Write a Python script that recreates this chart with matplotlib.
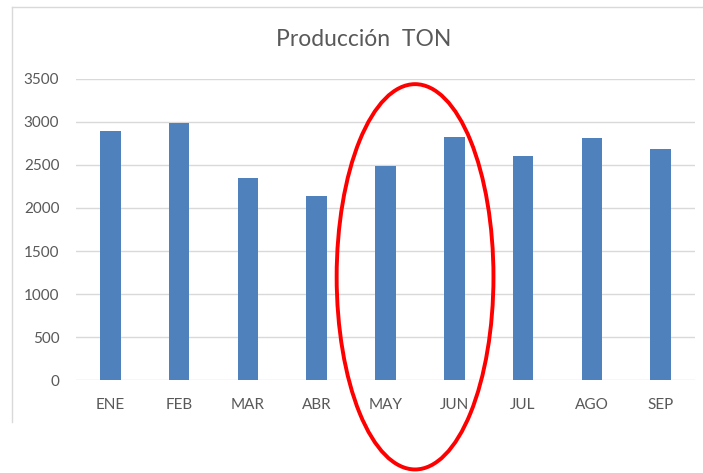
import matplotlib.pyplot as plt
from matplotlib.patches import Ellipse
from matplotlib.lines import Line2D

meses = ['ENE', 'FEB', 'MAR', 'ABR', 'MAY', 'JUN', 'JUL', 'AGO', 'SEP']
produccion = [2890, 2990, 2350, 2140, 2490, 2820, 2610, 2810, 2690]
yticks = [0, 500, 1000, 1500, 2000, 2500, 3000, 3500]

gris = '#595959'
plt.rcParams['font.family'] = ['Lato', 'DejaVu Sans']

fig = plt.figure(figsize=(7.03, 4.73), dpi=100)
ax = fig.add_axes([0.1081, 0.1966, 0.8805, 0.6364])

x = range(len(meses))
ax.bar(x, produccion, width=0.3, color='#4F81BD', zorder=3)

ax.set_xlim(-0.5, len(meses) - 0.5)
ax.set_ylim(0, 3500)
ax.set_yticks(yticks)
ax.set_xticks(list(x))
ax.set_xticklabels(meses)
ax.grid(axis='y', color='#D9D9D9', linewidth=1, zorder=0)
ax.tick_params(length=0, labelsize=11, labelcolor=gris)
ax.tick_params(axis='y', pad=12)
ax.tick_params(axis='x', pad=13)
for s in ax.spines.values():
    s.set_visible(False)

fig.text(0.5178, 0.917, 'Producción  TON', ha='center', va='center',
         fontsize=16.5, color=gris)

# marco del gráfico
fig.add_artist(Line2D([12 / 703, 1], [1 - 7 / 473, 1 - 7 / 473],
                      transform=fig.transFigure, color='#D9D9D9', lw=1))
fig.add_artist(Line2D([12 / 703, 12 / 703], [1 - 7 / 473, 1 - 422 / 473],
                      transform=fig.transFigure, color='#D9D9D9', lw=1))

# óvalo rojo alrededor de MAY y JUN
ax.add_patch(Ellipse((4.43, 1200), 2.28, 4480, fill=False,
                     edgecolor='#FF0000', linewidth=2.8, clip_on=False, zorder=5))

fig.savefig('out.png', dpi=100)
